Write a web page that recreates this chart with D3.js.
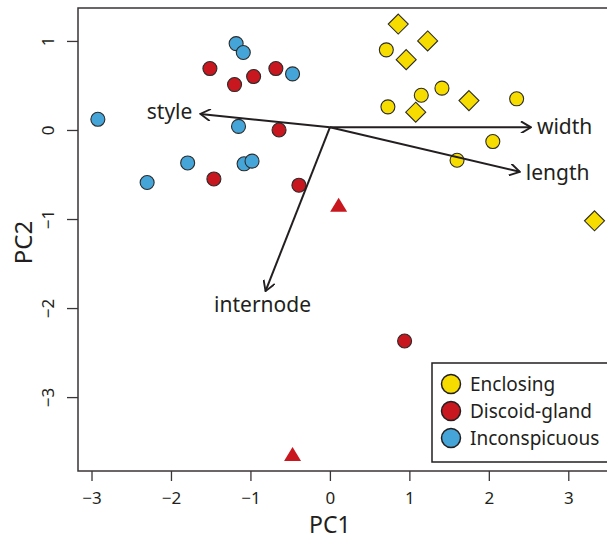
<!DOCTYPE html>
<html>
<head>
<meta charset="utf-8">
<script src="https://cdn.jsdelivr.net/npm/d3@7"></script>
<style>
  body { margin: 0; background: #fff; }
  text { font-family: "Noto Sans", "Open Sans", sans-serif; fill: #231f20; }
</style>
</head>
<body>
<div id="chart"></div>
<script>
// data
var groups = ["Enclosing", "Discoid-gland", "Inconspicuous"];
var groupColors = ["#f7dc00", "#c8171e", "#45a5d8"];

// PC1, PC2, group, shape
var pc1 = [-1.18, -1.09, -1.51, -1.20, -0.96, -0.68, -0.47, -2.92, -1.15, -0.64, -1.79, -1.08, -0.98, -1.46, -2.30, -0.39, 0.94,
           0.86, 1.23, 0.71, 0.96, 1.41, 1.15, 1.75, 2.35, 0.73, 1.08, 2.05, 1.60, 3.33,
           0.11, -0.47];
var pc2 = [0.97, 0.87, 0.69, 0.51, 0.60, 0.69, 0.63, 0.12, 0.04, 0.00, -0.37, -0.38, -0.35, -0.55, -0.59, -0.62, -2.37,
           1.19, 1.00, 0.90, 0.79, 0.47, 0.39, 0.33, 0.35, 0.26, 0.20, -0.13, -0.34, -1.02,
           -0.85, -3.65];
var grp = [2, 2, 1, 1, 1, 1, 2, 2, 2, 1, 2, 2, 2, 1, 2, 1, 1,
           0, 0, 0, 0, 0, 0, 0, 0, 0, 0, 0, 0, 0,
           1, 1];
var shape = ["c", "c", "c", "c", "c", "c", "c", "c", "c", "c", "c", "c", "c", "c", "c", "c", "c",
             "d", "d", "c", "d", "c", "c", "d", "c", "c", "d", "c", "c", "d",
             "t", "t"];

// loadings arrows
var arrowNames = ["style", "width", "length", "internode"];
var arrowX = [-1.63, 2.53, 2.39, -0.81];
var arrowY = [0.18, 0.03, -0.47, -1.81];
var arrowOrigin = [0, 0.03];

var xTicks = [-3, -2, -1, 0, 1, 2, 3];
var yTicks = [-3, -2, -1, 0, 1];

var svgWidth = 607;
var svgHeight = 541;
var margin = { top: 8, right: -5, bottom: 70, left: 78 };
var width = svgWidth - margin.left - margin.right;
var height = svgHeight - margin.top - margin.bottom;

var svg = d3.select("#chart")
  .append("svg")
  .attr("width", svgWidth)
  .attr("height", svgHeight);

var g = svg.append("g")
  .attr("transform", `translate(${margin.left}, ${margin.top})`);

var x = d3.scaleLinear().domain([-3.17, 3.55]).range([0, width]);
var y = d3.scaleLinear().domain([-3.83, 1.37]).range([height, 0]);

var minus = d => d < 0 ? "\u2212" + Math.abs(d) : d;

// axes
var xAxis = g.append("g")
  .attr("transform", `translate(0, ${height})`)
  .call(d3.axisBottom(x).tickValues(xTicks).tickSize(10).tickPadding(11).tickFormat(minus));
xAxis.select(".domain").remove();

var yAxis = g.append("g")
  .call(d3.axisLeft(y).tickValues(yTicks).tickSize(11).tickPadding(0).tickFormat(minus));
yAxis.select(".domain").remove();
yAxis.selectAll(".tick text")
  .attr("transform", "rotate(-90)")
  .attr("x", 0)
  .attr("y", -30)
  .attr("dy", "0.35em")
  .style("text-anchor", "middle");

g.selectAll(".tick line").attr("stroke", "#3a3536").attr("stroke-width", 1.3);
g.selectAll(".tick text").attr("font-size", 17).attr("fill", "#231f20")
  .attr("font-family", "Noto Sans, sans-serif");

// plot box
g.append("rect")
  .attr("x", 0).attr("y", 0)
  .attr("width", width).attr("height", height)
  .attr("fill", "none")
  .attr("stroke", "#3a3536")
  .attr("stroke-width", 1.5);

// axis titles
svg.append("text")
  .attr("x", margin.left + x(0))
  .attr("y", 533)
  .attr("text-anchor", "middle")
  .attr("font-size", 23)
  .text("PC1");

svg.append("text")
  .attr("transform", `translate(32, ${margin.top + height / 2 + 3}) rotate(-90)`)
  .attr("text-anchor", "middle")
  .attr("font-size", 24)
  .text("PC2");

// arrow head
svg.append("defs").append("marker")
  .attr("id", "head")
  .attr("viewBox", "0 0 12 12")
  .attr("refX", 11).attr("refY", 6)
  .attr("markerWidth", 12).attr("markerHeight", 12)
  .attr("markerUnits", "userSpaceOnUse")
  .attr("orient", "auto")
  .append("path")
  .attr("d", "M1,0 L11,6 L1,12")
  .attr("fill", "none")
  .attr("stroke", "#231f20")
  .attr("stroke-width", 1.9);

var pts = pc1.map((d, i) => ({ x: d, y: pc2[i], g: grp[i], s: shape[i] }));

// points
g.selectAll("circle.pt")
  .data(pts.filter(d => d.s === "c"))
  .enter()
  .append("circle")
  .attr("class", "pt")
  .attr("cx", d => x(d.x))
  .attr("cy", d => y(d.y))
  .attr("r", 7)
  .attr("fill", d => groupColors[d.g])
  .attr("stroke", "#2b2b2b")
  .attr("stroke-width", 1.1);

g.selectAll("path.dia")
  .data(pts.filter(d => d.s === "d"))
  .enter()
  .append("path")
  .attr("class", "dia")
  .attr("transform", d => `translate(${x(d.x)}, ${y(d.y)})`)
  .attr("d", "M0,-10 L10,0 L0,10 L-10,0 Z")
  .attr("fill", d => groupColors[d.g])
  .attr("stroke", "#2b2b2b")
  .attr("stroke-width", 1.1);

g.selectAll("path.tri")
  .data(pts.filter(d => d.s === "t"))
  .enter()
  .append("path")
  .attr("class", "tri")
  .attr("transform", d => `translate(${x(d.x)}, ${y(d.y)})`)
  .attr("d", "M0,-8 L8.5,6 L-8.5,6 Z")
  .attr("fill", d => groupColors[d.g]);

// arrows drawn over the points
var arrows = arrowNames.map((n, i) => ({ name: n, x: arrowX[i], y: arrowY[i] }));
g.selectAll("line.arrow")
  .data(arrows)
  .enter()
  .append("line")
  .attr("class", "arrow")
  .attr("x1", x(arrowOrigin[0]))
  .attr("y1", y(arrowOrigin[1]))
  .attr("x2", d => x(d.x))
  .attr("y2", d => y(d.y))
  .attr("stroke", "#231f20")
  .attr("stroke-width", 2)
  .attr("marker-end", "url(#head)");

// arrow labels
var labelPos = {
  style:     { dx: -8, dy: 5, anchor: "end" },
  width:     { dx: 6, dy: 7, anchor: "start" },
  length:    { dx: 6, dy: 8, anchor: "start" },
  internode: { dx: -3, dy: 21, anchor: "middle" }
};
g.selectAll("text.arrowlab")
  .data(arrows)
  .enter()
  .append("text")
  .attr("class", "arrowlab")
  .attr("x", d => x(d.x) + labelPos[d.name].dx)
  .attr("y", d => y(d.y) + labelPos[d.name].dy)
  .attr("text-anchor", d => labelPos[d.name].anchor)
  .attr("font-size", 21)
  .text(d => d.name);

// legend
var legend = svg.append("g").attr("transform", "translate(432, 363)");
legend.append("rect")
  .attr("width", 190).attr("height", 99)
  .attr("fill", "#fff")
  .attr("stroke", "#231f20")
  .attr("stroke-width", 1.5);

var items = legend.selectAll("g.item")
  .data(groups)
  .enter()
  .append("g")
  .attr("class", "item")
  .attr("transform", (d, i) => `translate(19, ${21 + i * 27})`);

items.append("circle")
  .attr("r", 9.5)
  .attr("fill", (d, i) => groupColors[i])
  .attr("stroke", "#231f20")
  .attr("stroke-width", 1.5);

items.append("text")
  .attr("x", 19)
  .attr("dy", "0.35em")
  .attr("font-size", 19)
  .text(d => d);
</script>
</body>
</html>
